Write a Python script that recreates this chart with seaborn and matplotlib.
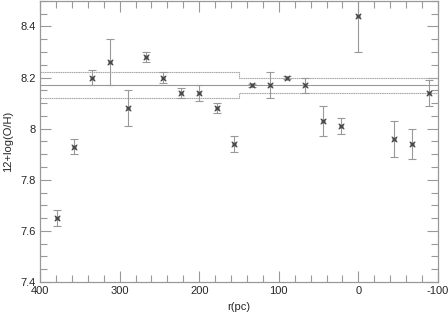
import seaborn as sns
import matplotlib.pyplot as plt
import pandas as pd
from matplotlib.ticker import MultipleLocator

# Data
radius = [379.0, 356.7, 334.4, 312.0, 289.7, 267.4, 245.0, 222.8, 200.5, 178.2, 155.9,
          133.6, 111.4, 89.1, 66.8, 44.5, 22.3, 0.0, -44.6, -66.8, -89.1]
abundance = [7.65, 7.93, 8.20, 8.26, 8.08, 8.28, 8.20, 8.14, 8.14, 8.08, 7.94,
             8.17, 8.17, 8.20, 8.17, 8.03, 8.01, 8.44, 7.96, 7.94, 8.14]
error = [0.03, 0.03, 0.03, 0.09, 0.07, 0.02, 0.02, 0.02, 0.03, 0.02, 0.03,
         0.005, 0.05, 0.005, 0.03, 0.06, 0.03, 0.14, 0.07, 0.06, 0.05]

# mean level and +/- 1 sigma bands, split at r = 150 pc
mean_level = 8.17
split_r = 150
band_upper = [8.22, 8.20]
band_lower = [8.12, 8.14]

df = pd.DataFrame({"r": radius, "oh": abundance, "err": error})

sns.set_style("ticks")
plt.rcParams["font.family"] = ["Liberation Sans", "DejaVu Sans"]

fig = plt.figure(figsize=(4.48, 3.13), dpi=100)
ax = fig.add_axes([0.0893, 0.099, 0.8884, 0.898])

gray = "#999999"
light = "#aaaaaa"

# reference lines
ax.plot([400, -100], [mean_level, mean_level], color=gray, lw=0.8)
ax.plot([400, split_r, split_r, -100],
        [band_upper[0], band_upper[0], band_upper[1], band_upper[1]],
        color=light, lw=0.8, ls=(0, (1.5, 0.5)))
ax.plot([400, split_r, split_r, -100],
        [band_lower[0], band_lower[0], band_lower[1], band_lower[1]],
        color=light, lw=0.8, ls=(0, (1.5, 0.5)))

# error bars
ax.errorbar(df["r"], df["oh"], yerr=df["err"], fmt="none", ecolor=gray,
            elinewidth=0.8, capsize=3, capthick=0.8)

# points
sns.scatterplot(data=df, x="r", y="oh", marker="s", s=8, facecolor="#666666",
                edgecolor="#999999", linewidth=0.4, ax=ax, zorder=3)
sns.scatterplot(data=df, x="r", y="oh", marker="x", s=16, color="#444444",
                linewidth=0.8, ax=ax, zorder=4)

ax.set_xlim(400, -100)
ax.set_ylim(7.4, 8.5)
ax.xaxis.set_major_locator(MultipleLocator(100))
ax.xaxis.set_minor_locator(MultipleLocator(20))
ax.yaxis.set_major_locator(MultipleLocator(0.2))
ax.yaxis.set_minor_locator(MultipleLocator(0.05))
ax.set_yticks([7.4, 7.6, 7.8, 8.0, 8.2, 8.4])
ax.set_yticklabels(["7.4", "7.6", "7.8", "8", "8.2", "8.4"])
ax.set_xticks([400, 300, 200, 100, 0, -100])
ax.set_xticklabels(["400", "300", "200", "100", "0", "-100"])

ax.tick_params(which="both", direction="in", top=True, right=True,
               color=gray, width=0.8, labelsize=8, pad=3)
ax.tick_params(which="major", length=8)
ax.tick_params(which="minor", length=5)
for sp in ax.spines.values():
    sp.set_color(gray)
    sp.set_linewidth(0.9)

ax.set_xlabel("r(pc)", fontsize=8, labelpad=4)
ax.set_ylabel("12+log(O/H)", fontsize=8, labelpad=5)

fig.savefig("out.png", dpi=100)
